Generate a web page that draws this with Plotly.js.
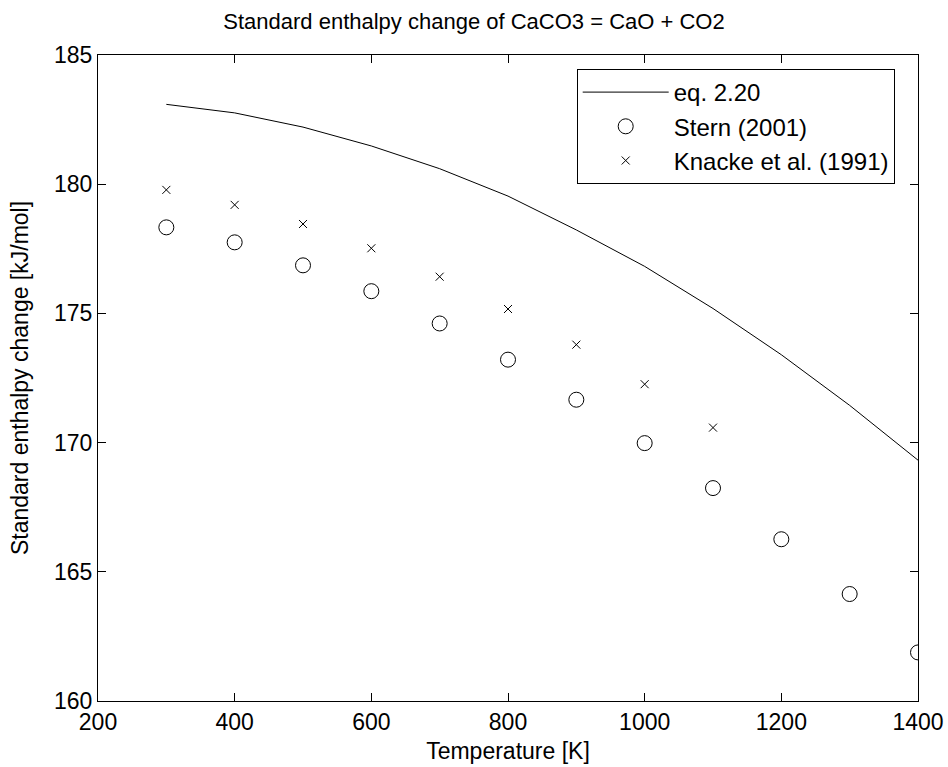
<!DOCTYPE html>
<html>
<head>
<meta charset="utf-8">
<script src="https://cdn.plot.ly/plotly-3.0.1.min.js"></script>
<style>
  html, body { margin: 0; padding: 0; background: #fff; }
  #chart { width: 948px; height: 767px; }
</style>
</head>
<body>
<div id="chart"></div>
<script>
// Temperatures [K]
const tempEq = [300, 400, 500, 600, 700, 800, 900, 1000, 1100, 1200, 1300, 1400];
const enthalpyEq = [183.09, 182.76, 182.21, 181.48, 180.60, 179.54, 178.23, 176.82, 175.19, 173.40, 171.44, 169.32];

const tempStern = [300, 400, 500, 600, 700, 800, 900, 1000, 1100, 1200, 1300, 1400];
const enthalpyStern = [178.33, 177.75, 176.86, 175.86, 174.61, 173.21, 171.66, 169.98, 168.24, 166.26, 164.14, 161.88];

const tempKnacke = [300, 400, 500, 600, 700, 800, 900, 1000, 1100];
const enthalpyKnacke = [179.78, 179.20, 178.46, 177.52, 176.42, 175.17, 173.79, 172.26, 170.58];

const xTicks = [200, 400, 600, 800, 1000, 1200, 1400];
const yTicks = [160, 165, 170, 175, 180, 185];

const FONT = 'Liberation Sans, Arial, sans-serif';
const FS = 23;

const traces = [
  {
    x: tempEq, y: enthalpyEq, name: 'eq. 2.20', type: 'scatter', mode: 'lines',
    line: { color: '#000', width: 1 }
  },
  {
    x: tempStern, y: enthalpyStern, name: 'Stern (2001)', type: 'scatter', mode: 'markers',
    marker: { symbol: 'circle-open', size: 15, color: '#000', line: { color: '#000', width: 1 } }
  },
  {
    x: tempKnacke, y: enthalpyKnacke, name: 'Knacke et al. (1991)', type: 'scatter', mode: 'markers',
    marker: { symbol: 'x-thin-open', size: 8, color: '#000', line: { color: '#000', width: 1 } }
  }
];

const axisCommon = {
  showgrid: false, zeroline: false,
  showline: true, linecolor: '#000', linewidth: 1, mirror: 'ticks',
  ticks: 'inside', ticklen: 8, tickwidth: 1, tickcolor: '#000',
  tickfont: { family: FONT, size: FS, color: '#000' }
};

const layout = {
  width: 948, height: 767,
  paper_bgcolor: '#fff', plot_bgcolor: '#fff',
  margin: { l: 98, r: 30, t: 55, b: 66 },
  font: { family: FONT, size: FS, color: '#000' },
  title: {
    text: 'Standard enthalpy change of CaCO3 = CaO + CO2',
    font: { family: FONT, size: 22, color: '#000' },
    x: 0.5, xref: 'container', xanchor: 'center',
    y: 1 - 21 / 767, yref: 'container', yanchor: 'middle'
  },
  xaxis: Object.assign({}, axisCommon, {
    range: [200, 1400], tickvals: xTicks, ticktext: xTicks.map(String),
    title: { text: 'Temperature [K]', font: { family: FONT, size: FS, color: '#000' }, standoff: 9 }
  }),
  yaxis: Object.assign({}, axisCommon, {
    range: [160, 185], tickvals: yTicks, ticktext: yTicks.map(String),
    title: { text: 'Standard enthalpy change [kJ/mol]', font: { family: FONT, size: FS, color: '#000' }, standoff: 18 }
  }),
  showlegend: true,
  legend: {
    x: (576.7 - 98) / 820, y: (701 - 69) / 646, xanchor: 'left', yanchor: 'top',
    bgcolor: '#fff', bordercolor: '#000', borderwidth: 1,
    font: { family: FONT, size: 24, color: '#000' },
    itemwidth: 86, tracegroupgap: 0
  }
};

Plotly.newPlot('chart', traces, layout, { displayModeBar: false, staticPlot: true });
</script>
</body>
</html>
